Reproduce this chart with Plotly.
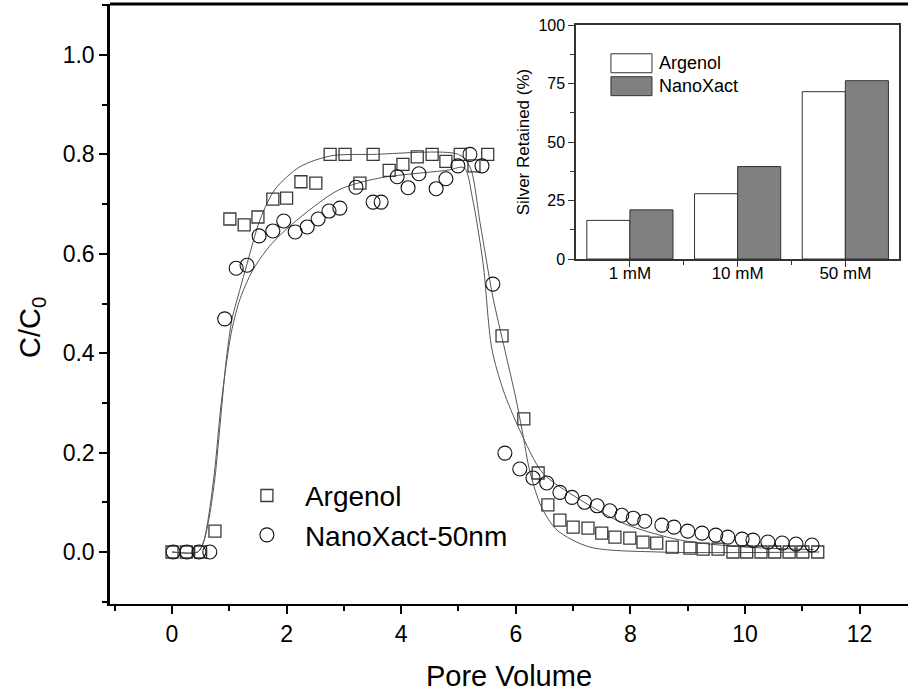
import plotly.graph_objects as go

# ---------------- data ----------------
argenol_pv = [0.0, 0.25, 0.5, 0.75, 1.01, 1.26, 1.5, 1.76, 2.0, 2.25, 2.51, 2.76, 3.02, 3.28,
              3.51, 3.79, 4.03, 4.28, 4.54, 4.78, 5.03, 5.27, 5.51, 5.76, 6.14, 6.39,
              6.56, 6.77, 7.0, 7.26, 7.5, 7.73, 7.99, 8.22, 8.46, 8.73, 9.04, 9.27, 9.53,
              9.79, 10.03, 10.28, 10.52, 10.77, 11.01, 11.27]
argenol_c = [0, 0, 0, 0.042, 0.67, 0.658, 0.674, 0.71, 0.712, 0.745, 0.742, 0.80, 0.80, 0.742,
             0.80, 0.768, 0.78, 0.795, 0.80, 0.786, 0.80, 0.777, 0.80, 0.435, 0.268, 0.159,
             0.095, 0.064, 0.05, 0.048, 0.038, 0.03, 0.028, 0.02, 0.018, 0.01, 0.008, 0.006, 0.006,
             0, 0, 0, 0, 0, 0, 0]

nano_pv = [0.02, 0.26, 0.47, 0.66, 0.92, 1.12, 1.31, 1.52, 1.76, 1.95, 2.15, 2.36, 2.55, 2.74,
           2.93, 3.21, 3.51, 3.65, 3.93, 4.12, 4.31, 4.61, 4.78, 4.99, 5.20, 5.41, 5.60,
           5.81, 6.07, 6.3, 6.54, 6.77, 6.98, 7.2, 7.42, 7.64, 7.85, 8.05, 8.25, 8.55,
           8.76, 9.0, 9.25, 9.49, 9.7, 9.95, 10.14, 10.4, 10.65, 10.89, 11.17]
nano_c = [0, 0, 0, 0, 0.469, 0.571, 0.577, 0.636, 0.646, 0.666, 0.644, 0.654, 0.67, 0.686,
          0.692, 0.734, 0.704, 0.704, 0.755, 0.733, 0.761, 0.731, 0.751, 0.777, 0.80, 0.777, 0.539,
          0.199, 0.167, 0.149, 0.139, 0.12, 0.11, 0.10, 0.093, 0.083, 0.074, 0.068, 0.062, 0.054,
          0.05, 0.042, 0.038, 0.034, 0.03, 0.026, 0.024, 0.02, 0.018, 0.016, 0.014]

# fitted curves
argenol_fit_pv = [0, 0.45, 0.55, 0.65, 0.75, 0.85, 0.95, 1.05, 1.19, 1.31, 1.54, 1.8, 2.23, 2.77,
                  3.5, 5.0, 5.2, 5.38, 5.6, 5.81, 6.0, 6.11, 6.25, 6.45, 6.72, 7.29, 8.5, 11.3]
argenol_fit_c = [0, 0, 0.02, 0.07, 0.15, 0.27, 0.39, 0.47, 0.53, 0.58, 0.67, 0.73, 0.775, 0.797,
                 0.80, 0.80, 0.775, 0.66, 0.513, 0.406, 0.31, 0.245, 0.16, 0.09, 0.044, 0.01, 0.0, 0.0]
nano_fit_pv = [0, 0.45, 0.55, 0.65, 0.75, 0.85, 0.95, 1.05, 1.19, 1.4, 1.7, 2.1, 2.9, 3.6, 4.8, 5.1,
               5.24, 5.43, 5.58, 5.78, 6.07, 6.47, 7.07, 7.87, 8.87, 10.0, 11.2]
nano_fit_c = [0, 0, 0.02, 0.08, 0.17, 0.29, 0.38, 0.45, 0.51, 0.565, 0.615, 0.66, 0.728, 0.752,
              0.768, 0.773, 0.714, 0.58, 0.41, 0.326, 0.245, 0.159, 0.109, 0.058, 0.024, 0.01, 0.005]

# inset bar chart
inset_categories = ["1 mM", "10 mM", "50 mM"]
inset_argenol = [16.5, 27.9, 71.5]
inset_nanoxact = [21.0, 39.5, 76.2]

FONT = "Arial, Liberation Sans, sans-serif"

fig = go.Figure()

# fitted lines
fig.add_trace(go.Scatter(x=argenol_fit_pv, y=argenol_fit_c, mode="lines",
                         line=dict(color="#555555", width=1, shape="spline", smoothing=0.8),
                         showlegend=False, hoverinfo="skip"))
fig.add_trace(go.Scatter(x=nano_fit_pv, y=nano_fit_c, mode="lines",
                         line=dict(color="#555555", width=1, shape="spline", smoothing=0.8),
                         showlegend=False, hoverinfo="skip"))

# data points
fig.add_trace(go.Scatter(x=argenol_pv, y=argenol_c, mode="markers", name="Argenol",
                         legendgroup="a",
                         marker=dict(symbol="square-open", size=12, color="#3a3a3a",
                                     line=dict(width=1.3, color="#3a3a3a"))))
fig.add_trace(go.Scatter(x=nano_pv, y=nano_c, mode="markers", name="NanoXact-50nm",
                         legendgroup="n",
                         marker=dict(symbol="circle-open", size=14, color="#111111",
                                     line=dict(width=1.1, color="#111111"))))

# inset bars
inset_pos = list(range(len(inset_categories)))
fig.add_trace(go.Bar(x=inset_pos, y=inset_argenol, xaxis="x2", yaxis="y2",
                     marker=dict(color="white", line=dict(color="#333333", width=1)),
                     showlegend=False, name="Argenol"))
fig.add_trace(go.Bar(x=inset_pos, y=inset_nanoxact, xaxis="x2", yaxis="y2",
                     marker=dict(color="#808080", line=dict(color="#333333", width=1)),
                     showlegend=False, name="NanoXact"))

fig.update_layout(
    template="none",
    width=908, height=696,
    margin=dict(l=110, r=0, t=4, b=92, autoexpand=False),
    paper_bgcolor="white", plot_bgcolor="white",
    font=dict(family=FONT, color="black"),
    barmode="group", bargap=0.2, bargroupgap=0,
    showlegend=True,
    legend=dict(x=0.149, y=0.222, xanchor="left", yanchor="top",
                font=dict(size=28, family=FONT), bgcolor="rgba(0,0,0,0)",
                tracegroupgap=0, itemsizing="trace", itemwidth=66),
    xaxis=dict(range=[-1.082, 12.845], showline=True, linewidth=2, linecolor="black",
               mirror=False, showgrid=False, zeroline=False, automargin=False,
               ticks="outside", ticklen=8, tickwidth=2, tickcolor="black",
               dtick=2, tick0=0, tickfont=dict(size=23),
               minor=dict(dtick=1, tick0=0, ticks="outside", ticklen=5, tickwidth=2,
                          tickcolor="black", showgrid=False),
               title=dict(text="Pore Volume", font=dict(size=29), standoff=20)),
    yaxis=dict(range=[-0.1046, 1.1026], showline=True, linewidth=2.5, linecolor="black",
               mirror=False, showgrid=False, zeroline=False, automargin=False,
               ticks="outside", ticklen=8, tickwidth=2, tickcolor="black",
               dtick=0.2, tick0=0, tickformat=".1f", tickfont=dict(size=23),
               minor=dict(dtick=0.1, tick0=0, ticks="outside", ticklen=5, tickwidth=2,
                          tickcolor="black", showgrid=False)),
    xaxis2=dict(domain=[0.584, 0.989], anchor="y2", range=[-0.5, 2.5],
                showline=True, linewidth=1.5, linecolor="#333333", mirror=True,
                showgrid=False, zeroline=False, automargin=False,
                tickvals=inset_pos, ticktext=inset_categories,
                ticks="outside", ticklen=6, tickwidth=1.3, tickcolor="#333333",
                tickfont=dict(size=17), ticklabelstandoff=-8,
                minor=dict(tickvals=[0.5, 1.5], ticks="outside", ticklen=4, tickwidth=1.3,
                           tickcolor="#333333", showgrid=False)),
    yaxis2=dict(domain=[0.575, 0.965], anchor="x2", range=[0, 100],
                showline=True, linewidth=1.5, linecolor="#333333", mirror=True,
                showgrid=False, zeroline=False, automargin=False,
                dtick=25, tick0=0, ticks="outside", ticklen=6, tickwidth=1.3,
                tickcolor="#333333", tickfont=dict(size=16),
                minor=dict(dtick=12.5, tick0=0, ticks="outside", ticklen=4, tickwidth=1.3,
                           tickcolor="#333333", showgrid=False),
                title=dict(text="Silver Retained (%)", font=dict(size=17), standoff=4)),
)

# y-axis title of main plot (placed lower than axis centre, as in the reference)
fig.add_annotation(xref="paper", yref="paper", x=-0.0977, y=0.46, text="C/C<sub>0</sub>",
                   textangle=-90, showarrow=False, xanchor="center", yanchor="middle",
                   font=dict(size=29))

# top frame line of main plot
fig.add_shape(type="line", xref="paper", yref="paper", x0=0, x1=1, y0=1, y1=1,
              line=dict(color="black", width=3))

# inset legend (boxes + labels)
fig.add_shape(type="rect", xref="x2 domain", yref="y2 domain", x0=0.108, x1=0.235,
              y0=0.796, y1=0.877, fillcolor="white", line=dict(color="#333333", width=1))
fig.add_shape(type="rect", xref="x2 domain", yref="y2 domain", x0=0.108, x1=0.235,
              y0=0.698, y1=0.779, fillcolor="#808080", line=dict(color="#333333", width=1))
fig.add_annotation(xref="x2 domain", yref="y2 domain", x=0.25, y=0.836, text="Argenol",
                   showarrow=False, xanchor="left", yanchor="middle", font=dict(size=18))
fig.add_annotation(xref="x2 domain", yref="y2 domain", x=0.25, y=0.738, text="NanoXact",
                   showarrow=False, xanchor="left", yanchor="middle", font=dict(size=18))

fig.write_html("out.html")
